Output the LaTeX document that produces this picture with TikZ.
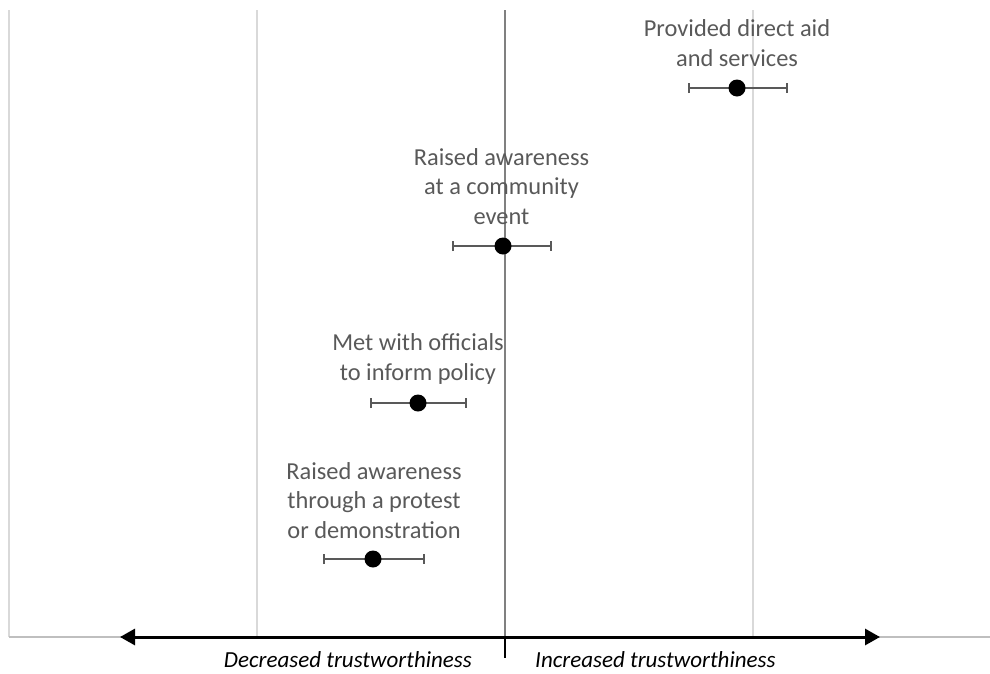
\documentclass[tikz,border=0pt]{standalone}
\usepackage{fontspec}
\setmainfont{Carlito}
\usetikzlibrary{arrows.meta}
\definecolor{gridc}{HTML}{D9D9D9}
\definecolor{midc}{HTML}{808080}
\definecolor{axisc}{HTML}{BFBFBF}
\definecolor{labc}{HTML}{595959}
\tikzset{
  grid line/.style={draw=gridc, line width=1.3pt},
  lab/.style={align=center, text=labc, font=\fontsize{24.4}{29.8}\selectfont, inner sep=0pt},
  ebar/.style={draw=labc, line width=1.6pt, {Bar[width=10pt]}-{Bar[width=10pt]}},
  dot/.style={circle, fill=black, minimum size=17pt, inner sep=0pt},
  axlab/.style={font=\fontsize{23}{26}\selectfont\itshape, text=black, inner sep=0pt}
}
\begin{document}
\begin{tikzpicture}[x=1pt,y=-1pt]
\useasboundingbox (0,0) rectangle (990,673);
% grid lines
\draw[grid line] (9,10) -- (9,637);
\draw[grid line] (257,10) -- (257,637);
\draw[grid line] (753,10) -- (753,637);
\draw[draw=midc, line width=1.6pt] (505,10) -- (505,637);
% horizontal axis
\draw[draw=axisc, line width=2pt] (9,637) -- (990,637);
\coordinate (c) at (505,637);
\coordinate (l) at (120,637);
\coordinate (r) at (880,637);
\draw[line width=3pt, -{Triangle[length=15pt,width=16pt]}] (c) -- (r);
\draw[line width=3pt, -{Triangle[length=15pt,width=16pt]}] (c) -- (l);
\coordinate (t) at (505,658);
\draw[line width=2.5pt] (c) -- (t);
\node[axlab, anchor=base east] (dec) at (472,667) {Decreased trustworthiness};
\node[axlab, anchor=base west] (inc) at (535,667) {Increased trustworthiness};
% points
\coordinate (a1) at (688,88); \coordinate (b1) at (788,88);
\draw[ebar] (a1) -- (b1);
\node[dot] (p1) at (737,88) {};
\node[lab, anchor=south] (t1) at (737,67) {Provided direct aid\\and services};

\coordinate (a2) at (452,246); \coordinate (b2) at (552,246);
\draw[ebar] (a2) -- (b2);
\node[dot] (p2) at (503,246) {};
\node[lab, anchor=south] (t2) at (501.5,225) {Raised awareness\\at a community\\event};

\coordinate (a3) at (370,403); \coordinate (b3) at (467,403);
\draw[ebar] (a3) -- (b3);
\node[dot] (p3) at (418,403) {};
\node[lab, anchor=south] (t3) at (418,384.5) {Met with officials\\to inform policy};

\coordinate (a4) at (323,559); \coordinate (b4) at (425,559);
\draw[ebar] (a4) -- (b4);
\node[dot] (p4) at (373,559) {};
\node[lab, anchor=south] (t4) at (374,539) {Raised awareness\\through a protest\\or demonstration};
\end{tikzpicture}
\end{document}
